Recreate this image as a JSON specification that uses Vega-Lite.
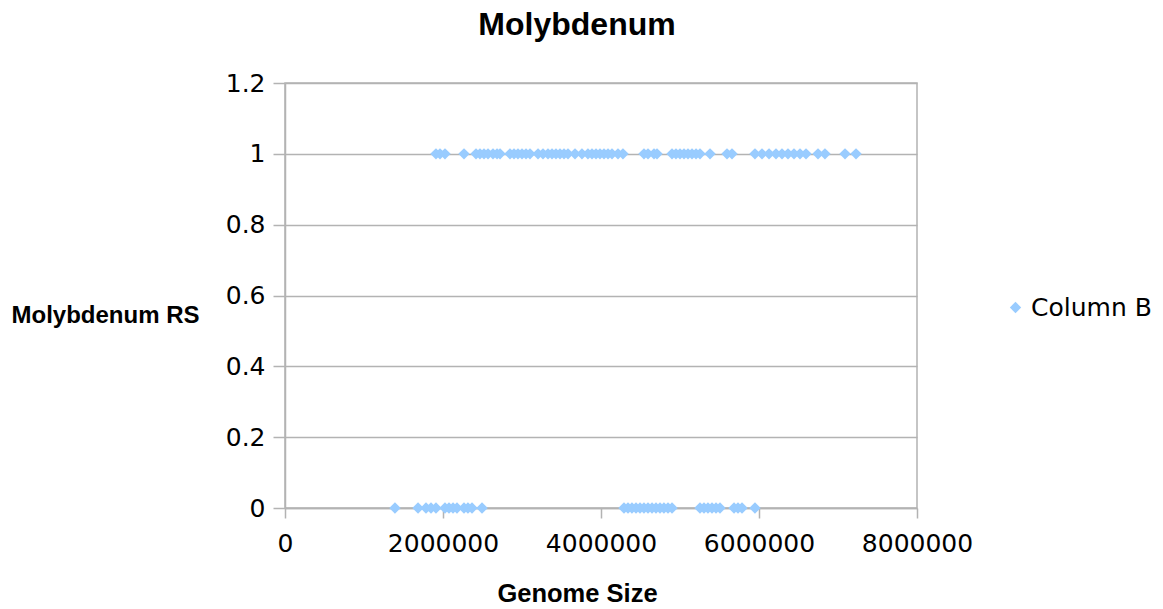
{
  "$schema": "https://vega.github.io/schema/vega-lite/v6.json",
  "width": 632,
  "height": 425,
  "autosize": "none",
  "padding": {"left": 285, "top": 83, "right": 246, "bottom": 101},
  "background": "white",
  "title": {
    "text": "Molybdenum",
    "font": "Liberation Sans",
    "fontSize": 32,
    "fontWeight": "bold",
    "color": "black",
    "anchor": "middle",
    "frame": "group",
    "baseline": "alphabetic",
    "dx": -24,
    "offset": 4
  },
  "config": {
    "view": {"stroke": "#b3b3b3", "strokeWidth": 1.5},
    "axis": {
      "labelFont": "DejaVu Sans",
      "labelFontSize": 25,
      "labelColor": "black",
      "titleFont": "Liberation Sans",
      "titleFontWeight": "bold",
      "titleColor": "black",
      "domainColor": "#b3b3b3",
      "domainWidth": 1.5,
      "tickColor": "#b3b3b3",
      "tickWidth": 1.5,
      "gridColor": "#b3b3b3",
      "gridWidth": 1.5
    }
  },
  "data": {
    "values": [
      {"genome_size": 1911000, "rs": 1},
      {"genome_size": 1962000, "rs": 1},
      {"genome_size": 2025000, "rs": 1},
      {"genome_size": 2266000, "rs": 1},
      {"genome_size": 2418000, "rs": 1},
      {"genome_size": 2468000, "rs": 1},
      {"genome_size": 2519000, "rs": 1},
      {"genome_size": 2570000, "rs": 1},
      {"genome_size": 2633000, "rs": 1},
      {"genome_size": 2684000, "rs": 1},
      {"genome_size": 2722000, "rs": 1},
      {"genome_size": 2848000, "rs": 1},
      {"genome_size": 2899000, "rs": 1},
      {"genome_size": 2949000, "rs": 1},
      {"genome_size": 3000000, "rs": 1},
      {"genome_size": 3051000, "rs": 1},
      {"genome_size": 3101000, "rs": 1},
      {"genome_size": 3203000, "rs": 1},
      {"genome_size": 3266000, "rs": 1},
      {"genome_size": 3329000, "rs": 1},
      {"genome_size": 3380000, "rs": 1},
      {"genome_size": 3430000, "rs": 1},
      {"genome_size": 3481000, "rs": 1},
      {"genome_size": 3532000, "rs": 1},
      {"genome_size": 3582000, "rs": 1},
      {"genome_size": 3671000, "rs": 1},
      {"genome_size": 3759000, "rs": 1},
      {"genome_size": 3835000, "rs": 1},
      {"genome_size": 3886000, "rs": 1},
      {"genome_size": 3937000, "rs": 1},
      {"genome_size": 3987000, "rs": 1},
      {"genome_size": 4038000, "rs": 1},
      {"genome_size": 4089000, "rs": 1},
      {"genome_size": 4139000, "rs": 1},
      {"genome_size": 4215000, "rs": 1},
      {"genome_size": 4278000, "rs": 1},
      {"genome_size": 4544000, "rs": 1},
      {"genome_size": 4595000, "rs": 1},
      {"genome_size": 4671000, "rs": 1},
      {"genome_size": 4709000, "rs": 1},
      {"genome_size": 4899000, "rs": 1},
      {"genome_size": 4949000, "rs": 1},
      {"genome_size": 5000000, "rs": 1},
      {"genome_size": 5051000, "rs": 1},
      {"genome_size": 5101000, "rs": 1},
      {"genome_size": 5152000, "rs": 1},
      {"genome_size": 5203000, "rs": 1},
      {"genome_size": 5253000, "rs": 1},
      {"genome_size": 5380000, "rs": 1},
      {"genome_size": 5595000, "rs": 1},
      {"genome_size": 5658000, "rs": 1},
      {"genome_size": 5949000, "rs": 1},
      {"genome_size": 6038000, "rs": 1},
      {"genome_size": 6127000, "rs": 1},
      {"genome_size": 6215000, "rs": 1},
      {"genome_size": 6291000, "rs": 1},
      {"genome_size": 6367000, "rs": 1},
      {"genome_size": 6443000, "rs": 1},
      {"genome_size": 6519000, "rs": 1},
      {"genome_size": 6595000, "rs": 1},
      {"genome_size": 6747000, "rs": 1},
      {"genome_size": 6835000, "rs": 1},
      {"genome_size": 7089000, "rs": 1},
      {"genome_size": 7228000, "rs": 1},
      {"genome_size": 1392000, "rs": 0},
      {"genome_size": 1684000, "rs": 0},
      {"genome_size": 1785000, "rs": 0},
      {"genome_size": 1848000, "rs": 0},
      {"genome_size": 1911000, "rs": 0},
      {"genome_size": 2025000, "rs": 0},
      {"genome_size": 2076000, "rs": 0},
      {"genome_size": 2127000, "rs": 0},
      {"genome_size": 2177000, "rs": 0},
      {"genome_size": 2266000, "rs": 0},
      {"genome_size": 2316000, "rs": 0},
      {"genome_size": 2367000, "rs": 0},
      {"genome_size": 2494000, "rs": 0},
      {"genome_size": 4291000, "rs": 0},
      {"genome_size": 4342000, "rs": 0},
      {"genome_size": 4392000, "rs": 0},
      {"genome_size": 4443000, "rs": 0},
      {"genome_size": 4494000, "rs": 0},
      {"genome_size": 4544000, "rs": 0},
      {"genome_size": 4595000, "rs": 0},
      {"genome_size": 4646000, "rs": 0},
      {"genome_size": 4696000, "rs": 0},
      {"genome_size": 4747000, "rs": 0},
      {"genome_size": 4797000, "rs": 0},
      {"genome_size": 4848000, "rs": 0},
      {"genome_size": 4899000, "rs": 0},
      {"genome_size": 5253000, "rs": 0},
      {"genome_size": 5304000, "rs": 0},
      {"genome_size": 5354000, "rs": 0},
      {"genome_size": 5405000, "rs": 0},
      {"genome_size": 5456000, "rs": 0},
      {"genome_size": 5506000, "rs": 0},
      {"genome_size": 5684000, "rs": 0},
      {"genome_size": 5734000, "rs": 0},
      {"genome_size": 5785000, "rs": 0},
      {"genome_size": 5949000, "rs": 0}
    ]
  },
  "mark": {"type": "point", "shape": "diamond", "filled": true, "size": 130, "opacity": 1},
  "encoding": {
    "x": {
      "field": "genome_size",
      "type": "quantitative",
      "scale": {"domain": [0, 8000000], "nice": false, "zero": true},
      "axis": {
        "title": "Genome Size",
        "titleFontSize": 25.5,
        "values": [0, 2000000, 4000000, 6000000, 8000000],
        "format": "d",
        "grid": false,
        "tickSize": 10,
        "labelPadding": 13,
        "labelFlush": false,
        "labelOverlap": false,
        "titleX": 292,
        "titleY": 93,
        "titleAlign": "center",
        "titleBaseline": "alphabetic"
      }
    },
    "y": {
      "field": "rs",
      "type": "quantitative",
      "scale": {"domain": [0, 1.2], "nice": false},
      "axis": {
        "title": "Molybdenum RS",
        "titleFontSize": 24,
        "values": [0, 0.2, 0.4, 0.6, 0.8, 1, 1.2],
        "format": "~g",
        "grid": true,
        "tickSize": 12,
        "labelPadding": 8,
        "labelFlush": false,
        "labelOverlap": false,
        "titleAngle": 0,
        "titleX": -274,
        "titleY": 239,
        "titleAlign": "left",
        "titleBaseline": "alphabetic"
      }
    },
    "color": {
      "datum": "Column B",
      "type": "nominal",
      "scale": {"range": ["#99ccff"]},
      "legend": {
        "title": null,
        "orient": "none",
        "legendX": 718,
        "legendY": 212,
        "padding": 0,
        "symbolType": "diamond",
        "symbolSize": 130,
        "symbolFillColor": "#99ccff",
        "symbolStrokeWidth": 0,
        "labelFont": "DejaVu Sans",
        "labelFontSize": 25,
        "labelColor": "black",
        "labelOffset": 3
      }
    }
  }
}
